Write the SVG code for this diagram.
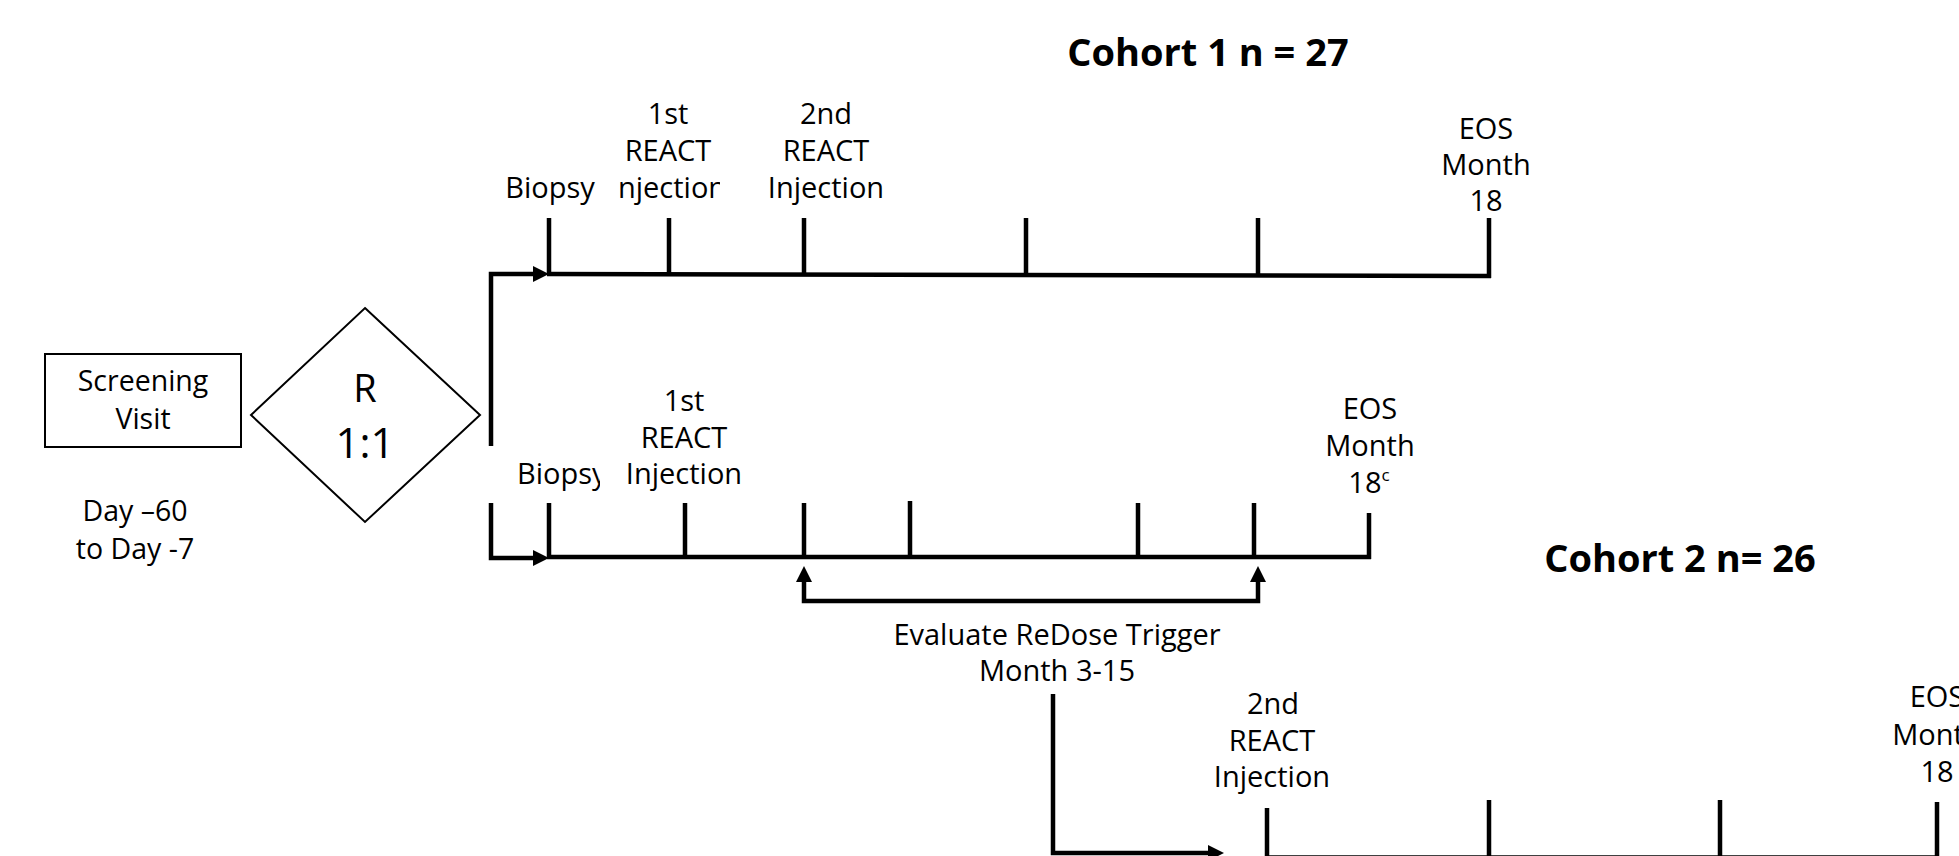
<svg xmlns="http://www.w3.org/2000/svg" width="1959" height="856" viewBox="0 0 1959 856">
<style>
.t{font-family:"Open Sans","Liberation Sans",sans-serif;font-size:29px;fill:#000;text-anchor:middle}
.title{font-weight:700;font-size:38px}
.ln{stroke:#000;stroke-width:4.5;fill:none;stroke-linecap:butt}
.box{stroke:#000;stroke-width:2;fill:#fff}
</style>
<defs>
<marker id="ah" markerUnits="userSpaceOnUse" markerWidth="16" markerHeight="16" refX="6" refY="8" orient="auto-start-reverse" viewBox="0 0 16 16">
<path d="M0,0 L16,8 L0,16 z" fill="#000"/>
</marker>
<clipPath id="clipInj"><rect x="617" y="170" width="103" height="40"/></clipPath>
<clipPath id="clipBio"><rect x="500" y="455" width="100" height="40"/></clipPath>
</defs>
<rect width="1959" height="856" fill="#fff"/>

<g id="connectors">
<path class="ln" d="M491,446 V274 H539" marker-end="url(#ah)"/>
<path class="ln" d="M491,503 V558 H539" marker-end="url(#ah)"/>
<path class="ln" d="M804,576 V601 H1258 V576" marker-start="url(#ah)" marker-end="url(#ah)"/>
<path class="ln" d="M1053,694 V853 H1214" marker-end="url(#ah)"/>
</g>

<g id="screening">
<rect class="box" x="45" y="354" width="196" height="93"/>
<text class="t" x="143" y="391" style="font-size:28.5px">Screening</text>
<text class="t" x="143" y="429" style="font-size:28.5px">Visit</text>
<text class="t" x="135" y="521" style="font-size:28.5px">Day –60</text>
<text class="t" x="135" y="559" style="font-size:28.5px">to Day -7</text>
</g>

<g id="randomization">
<polygon class="box" points="365,308 480,415 365,522 251,415"/>
<text class="t" x="365" y="402" style="font-size:38px">R</text>
<text class="t" x="365" y="458" style="font-size:42px">1:1</text>
</g>

<g id="cohort1-title">
<text class="t title" x="1208" y="66">Cohort 1 n = 27</text>
</g>

<g id="arm1-timeline">
<polyline class="ln" points="547,274 1491,276"/>
<path class="ln" d="M549,218 V274 M669,218 V274 M804,218 V274 M1026,218 V275 M1258,218 V275 M1489,218 V278"/>
<text class="t" x="550" y="198">Biopsy</text>
<text class="t" x="668" y="124">1st</text>
<text class="t" x="668" y="161">REACT</text>
<text class="t" x="668" y="198" clip-path="url(#clipInj)">Injection</text>
<text class="t" x="826" y="124">2nd</text>
<text class="t" x="826" y="161">REACT</text>
<text class="t" x="826" y="198">Injection</text>
<text class="t" x="1486" y="139">EOS</text>
<text class="t" x="1486" y="175">Month</text>
<text class="t" x="1486" y="211">18</text>
</g>

<g id="arm2-timeline">
<line class="ln" x1="547" y1="557" x2="1371" y2="557"/>
<path class="ln" d="M549,503 V557 M685,503 V557 M804,503 V557 M910,501 V557 M1138,503 V557 M1254,503 V557 M1369,513 V559"/>
<text class="t" x="517" y="484" style="text-anchor:start" clip-path="url(#clipBio)">Biopsy</text>
<text class="t" x="684" y="411">1st</text>
<text class="t" x="684" y="448">REACT</text>
<text class="t" x="684" y="484">Injection</text>
<text class="t" x="1370" y="419">EOS</text>
<text class="t" x="1370" y="456">Month</text>
<text class="t" x="1369" y="493">18<tspan style="font-size:17px" dy="-12">c</tspan></text>
</g>

<g id="redose-trigger">
<text class="t" x="1057" y="645">Evaluate ReDose Trigger</text>
<text class="t" x="1057" y="681">Month 3-15</text>
</g>

<g id="cohort2-title">
<text class="t title" x="1680" y="572">Cohort 2 n= 26</text>
</g>

<g id="cohort2-timeline">
<line class="ln" x1="1265" y1="857.5" x2="1939" y2="857.5"/>
<path class="ln" d="M1267,808 V857 M1489,800 V857 M1720,800 V857 M1937,802 V857"/>
<text class="t" x="1273" y="714">2nd</text>
<text class="t" x="1272" y="751">REACT</text>
<text class="t" x="1272" y="787">Injection</text>
<text class="t" x="1937" y="707">EOS</text>
<text class="t" x="1937" y="745">Month</text>
<text class="t" x="1937" y="782">18</text>
</g>
</svg>
